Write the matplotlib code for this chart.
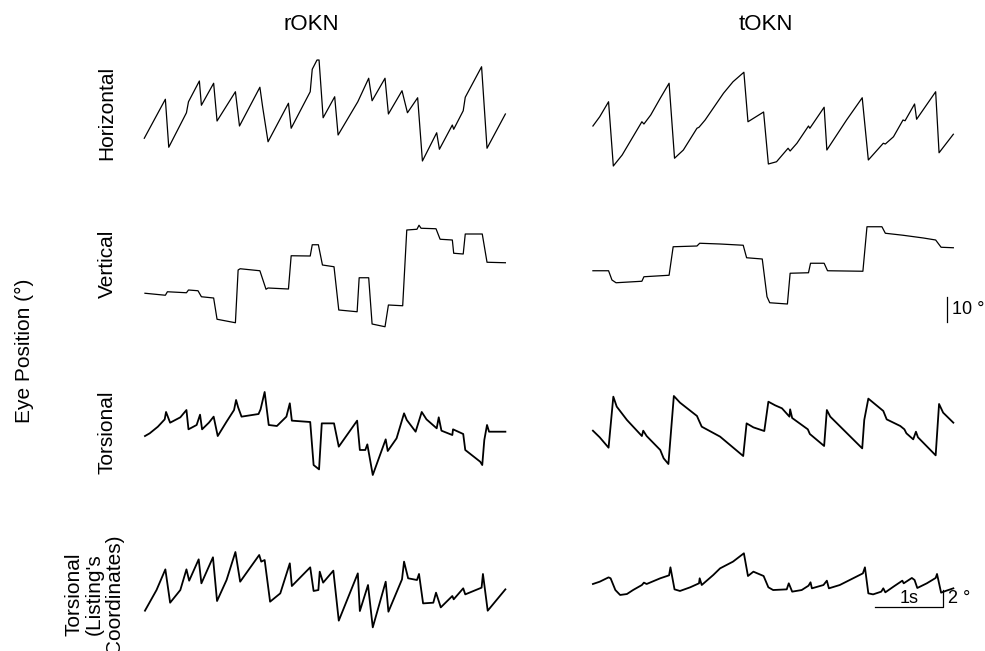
#!/usr/bin/env python3
"""OKN eye position traces: rOKN vs tOKN, four components."""

import matplotlib

matplotlib.use("Agg")
import matplotlib.pyplot as plt

plt.rcParams["font.family"] = ["Liberation Sans", "DejaVu Sans"]

W, H = 985, 651

# ---- data: breakpoints (time s, position deg) ----
# rOKN horizontal
rokn_h_t = [0.21, 0.52, 0.57, 0.83, 0.86, 1.02, 1.05, 1.23, 1.28, 1.55, 1.61, 1.91, 1.95, 2.03,
            2.33, 2.37, 2.65, 2.68, 2.75, 2.78, 2.84, 3.01, 3.06, 3.35, 3.51, 3.56, 3.75, 3.80,
            4.00, 4.08, 4.23, 4.30, 4.51, 4.55, 4.74, 4.76, 4.90, 4.93, 5.17, 5.25, 5.52]
rokn_h_v = [-11.3, 4.3, -14.9, -1.1, 3.3, 11.6, 1.9, 10.7, -4.4, 7.3, -6.4, 9.1, 1.3, -12.7,
            2.7, -7.3, 7.3, 16.3, 20.0, 20.0, -3.1, 5.3, -10.0, 3.3, 12.7, 3.7, 12.7, -1.6,
            7.7, -1.1, 4.9, -20.4, -9.1, -15.7, -6.0, -7.7, -0.3, 5.1, 17.3, -15.3, -1.6]

# tOKN horizontal
tokn_h_t = [0.19, 0.29, 0.42, 0.49, 0.62, 0.91, 0.94, 1.04, 1.18, 1.31, 1.39, 1.52, 1.72, 1.75,
            1.84, 2.11, 2.25, 2.41, 2.47, 2.70, 2.77, 2.89, 3.06, 3.09, 3.19, 3.36, 3.38, 3.59,
            3.63, 3.92, 4.15, 4.24, 4.46, 4.49, 4.61, 4.75, 4.78, 4.92, 4.95, 5.23, 5.28, 5.49]
tokn_h_v = [-6.4, -2.7, 3.3, -22.4, -18.0, -4.7, -5.6, -2.0, 4.7, 10.7, -19.3, -16.0, -7.3, -6.9,
            -4.0, 6.7, 11.3, 15.1, -4.7, -0.8, -21.6, -20.7, -15.3, -16.4, -13.3, -6.4, -7.3, 1.1,
            -16.0, -4.0, 4.9, -20.0, -13.3, -13.6, -10.7, -4.0, -4.3, 2.4, -3.7, 7.3, -17.1, -9.7]

# rOKN vertical
rokn_v_t = [0.22, 0.52, 0.55, 0.83, 0.86, 1.00, 1.05, 1.23, 1.28, 1.55, 1.59, 1.62, 1.91, 2.00,
            2.03, 2.33, 2.37, 2.65, 2.68, 2.77, 2.83, 3.00, 3.07, 3.34, 3.37, 3.51, 3.56, 3.75,
            3.80, 4.01, 4.07, 4.22, 4.25, 4.28, 4.50, 4.56, 4.74, 4.76, 4.90, 4.93, 5.18, 5.25, 5.52]
rokn_v_v = [-7.3, -8.1, -6.7, -7.1, -6.0, -6.3, -8.7, -9.2, -17.7, -19.1, 2.0, 2.5, 1.7, -5.7,
            -5.2, -5.6, 7.7, 7.6, 12.1, 12.1, 4.0, 3.3, -14.0, -14.7, -1.1, -1.1, -19.6, -20.7,
            -12.0, -12.3, 18.0, 18.3, 19.9, 18.7, 18.5, 14.3, 14.0, 8.7, 8.4, 16.4, 16.4, 5.1, 4.9]

# tOKN vertical
tokn_v_t = [0.19, 0.42, 0.47, 0.53, 0.91, 0.94, 1.31, 1.37, 1.72, 1.76, 2.06, 2.40, 2.45, 2.68,
            2.75, 2.79, 3.05, 3.09, 3.36, 3.39, 3.59, 3.64, 4.16, 4.22, 4.44, 4.49, 4.75, 5.05,
            5.23, 5.31, 5.49]
tokn_v_v = [1.7, 1.7, -2.0, -3.1, -2.5, -0.7, -0.1, 11.3, 11.6, 12.7, 12.4, 11.9, 6.9, 6.4,
            -8.7, -11.1, -11.6, 0.7, 0.9, 4.7, 4.7, 1.7, 1.5, 19.3, 19.3, 16.7, 15.9, 14.8,
            14.0, 11.1, 10.9]

# rOKN torsional
rokn_t_t = [0.22, 0.29, 0.41, 0.51, 0.53, 0.59, 0.74, 0.83, 0.86, 0.98, 1.03, 1.06, 1.16, 1.23,
            1.29, 1.42, 1.53, 1.56, 1.59, 1.64, 1.89, 1.92, 1.98, 2.04, 2.16, 2.30, 2.35, 2.38,
            2.65, 2.70, 2.78, 2.82, 3.00, 3.07, 3.34, 3.38, 3.46, 3.49, 3.57, 3.76, 3.79, 3.92,
            4.03, 4.07, 4.20, 4.29, 4.36, 4.51, 4.54, 4.58, 4.74, 4.75, 4.90, 4.93, 5.15, 5.18,
            5.21, 5.25, 5.28, 5.52]
rokn_t_v = [-0.71, -0.39, 0.39, 1.25, 2.12, 0.86, 1.49, 2.35, 0.08, 0.59, 1.80, 0.08, 0.86, 1.57,
            -0.71, 0.98, 2.35, 3.53, 2.67, 1.57, 1.88, 2.43, 4.47, 0.59, 0.47, 1.57, 3.14, 1.10,
            0.94, -4.12, -4.63, 0.78, 0.78, -1.96, 1.10, -2.35, -2.35, -1.69, -5.29, -1.10, -2.47, -0.98,
            1.96, 1.18, -0.20, 2.12, 1.25, 0.20, 1.49, -0.08, -0.59, 0.08, -0.47, -2.35, -3.73, -4.12,
            -1.18, 0.59, -0.20, -0.20]

# tOKN torsional
tokn_t_t = [0.19, 0.29, 0.42, 0.49, 0.54, 0.69, 0.91, 0.93, 0.98, 1.18, 1.23, 1.30, 1.38, 1.47,
            1.72, 1.75, 1.79, 2.06, 2.40, 2.45, 2.55, 2.71, 2.77, 2.87, 2.97, 3.08, 3.09, 3.12,
            3.35, 3.38, 3.59, 3.63, 3.68, 4.15, 4.18, 4.24, 4.46, 4.51, 4.71, 4.77, 4.80, 4.90,
            4.94, 4.97, 5.23, 5.28, 5.34, 5.49]
tokn_t_v = [-0.08, -0.86, -2.08, 3.92, 2.75, 1.18, -0.71, -0.08, -0.71, -2.35, -3.33, -4.00, 4.00, 3.22,
            1.65, 1.10, 0.39, -0.78, -3.06, 0.78, 0.31, -0.12, 3.33, 2.90, 2.55, 1.57, 2.43, 1.41,
            0.08, -0.47, -1.88, 2.35, 1.57, -2.16, 1.18, 3.69, 2.24, 1.25, 0.47, 0.08, -0.39, -1.10,
            -0.20, -0.86, -2.98, 3.06, 2.04, 0.86]

# rOKN torsional, Listing's coordinates
rokn_l_t = [0.22, 0.39, 0.52, 0.59, 0.74, 0.83, 0.87, 1.01, 1.05, 1.22, 1.28, 1.42, 1.55, 1.62,
            1.90, 1.93, 1.98, 2.06, 2.21, 2.35, 2.38, 2.65, 2.70, 2.77, 2.79, 2.84, 2.99, 3.07,
            3.35, 3.38, 3.50, 3.57, 3.76, 3.80, 4.00, 4.03, 4.09, 4.22, 4.25, 4.31, 4.46, 4.50,
            4.57, 4.74, 4.76, 4.90, 4.93, 5.17, 5.19, 5.26, 5.52]
rokn_l_v = [-3.61, -1.18, 1.25, -2.67, -1.18, 1.25, -0.08, 2.43, -0.39, 2.67, -2.47, 0.00, 3.29, -0.20,
            2.94, 2.16, 2.35, -2.55, -1.57, 1.96, -0.71, 1.49, -1.29, -1.18, 0.98, -0.31, 1.10, -4.78,
            0.78, -3.65, -0.59, -5.57, -0.20, -3.73, 0.08, 2.16, 0.20, 0.00, 0.71, -2.75, -2.67, -1.49,
            -3.22, -1.88, -2.27, -0.98, -1.69, -0.90, 0.71, -3.61, -1.10]

# tOKN torsional, Listing's coordinates
tokn_l_t = [0.19, 0.29, 0.42, 0.45, 0.52, 0.59, 0.69, 0.78, 0.91, 0.94, 0.98, 1.18, 1.31, 1.33,
            1.39, 1.47, 1.62, 1.75, 1.76, 1.79, 1.96, 2.06, 2.25, 2.41, 2.47, 2.55, 2.70, 2.77,
            2.84, 3.04, 3.07, 3.12, 3.26, 3.36, 3.39, 3.41, 3.58, 3.63, 3.66, 3.82, 4.16, 4.19,
            4.24, 4.31, 4.43, 4.46, 4.49, 4.61, 4.74, 4.76, 4.88, 4.92, 4.96, 5.10, 5.23, 5.25,
            5.31, 5.39, 5.49]
tokn_l_v = [-0.47, -0.20, 0.31, 0.20, -1.18, -1.76, -1.65, -1.18, -0.59, -0.31, -0.47, 0.20, 0.55, 1.49,
            -1.10, -1.29, -0.86, -0.39, 0.20, -0.59, 0.59, 1.37, 2.16, 3.14, 0.47, 0.98, 0.47, -0.86,
            -1.18, -1.10, -0.39, -1.37, -1.18, -0.67, -0.27, -0.98, -0.59, -0.08, -0.98, -0.59, 0.78, 1.49,
            -1.57, -1.69, -1.37, -0.98, -1.45, -0.78, -0.08, -0.39, 0.24, 0.00, -0.94, -0.39, 0.24, 0.71,
            -1.49, -1.25, -0.98]

conditions = ["rOKN", "tOKN"]
row_labels = ["Horizontal", "Vertical", "Torsional", "Torsional\n(Listing's\nCoordinates)"]
traces = [
    [(rokn_h_t, rokn_h_v), (tokn_h_t, tokn_h_v)],
    [(rokn_v_t, rokn_v_v), (tokn_v_t, tokn_v_v)],
    [(rokn_t_t, rokn_t_v), (tokn_t_t, tokn_t_v)],
    [(rokn_l_t, rokn_l_v), (tokn_l_t, tokn_l_v)],
]

# panel geometry (pixels): top, height, half-range of y in degrees, line width
rows = [
    (40, 140, 28.0, 0.9),
    (210, 130, 26.0, 0.9),
    (380, 100, 5.88, 1.3),
    (530, 100, 5.88, 1.3),
]
col_left = [130, 580]
col_w = 390
t_span = 5.735  # seconds across a panel


def px_axes(fig, x, y, w, h):
    return fig.add_axes([x / W, 1 - (y + h) / H, w / W, h / H])


fig = plt.figure(figsize=(W / 100, H / 100), dpi=100)

axes = {}
for r, (top, hgt, yr, lw) in enumerate(rows):
    for c in range(2):
        ax = px_axes(fig, col_left[c], top, col_w, hgt)
        t, v = traces[r][c]
        ax.plot(t, v, color="black", lw=lw, solid_joinstyle="round")
        ax.set_xlim(0, t_span)
        ax.set_ylim(-yr, yr)
        ax.axis("off")
        axes[(r, c)] = ax

# column titles
fig.text(311 / W, 1 - 25 / H, "rOKN", ha="center", va="center", fontsize=16)
fig.text(766 / W, 1 - 25 / H, "tOKN", ha="center", va="center", fontsize=16)

# row labels
label_y = [113, 264, 432, 594]
label_x = [107, 107, 107, 94]
for lab, lx, ly in zip(row_labels, label_x, label_y):
    fig.text(lx / W, 1 - ly / H, lab, rotation=90, ha="center", va="center",
             fontsize=15, linespacing=1.1, multialignment="center")

fig.text(24 / W, 1 - 351 / H, "Eye Position (°)", rotation=90, ha="center", va="center",
         fontsize=15)

# 10 deg scale bar (horizontal / vertical panels)
ax = axes[(1, 1)]
ax.plot([5.40, 5.40], [-8.6, -18.6], color="black", lw=0.9, clip_on=False)
ax.text(5.47, -13.6, "10 °", ha="left", va="center", fontsize=13)

# 1 s / 2 deg scale bars (torsional panels)
ax = axes[(3, 1)]
ax.plot([4.34, 5.34, 5.34], [-3.18, -3.18, -1.18], color="black", lw=0.9, clip_on=False)
ax.text(4.84, -2.18, "1s", ha="center", va="center", fontsize=13)
ax.text(5.41, -2.18, "2 °", ha="left", va="center", fontsize=13)

fig.savefig("out.png", dpi=100)
